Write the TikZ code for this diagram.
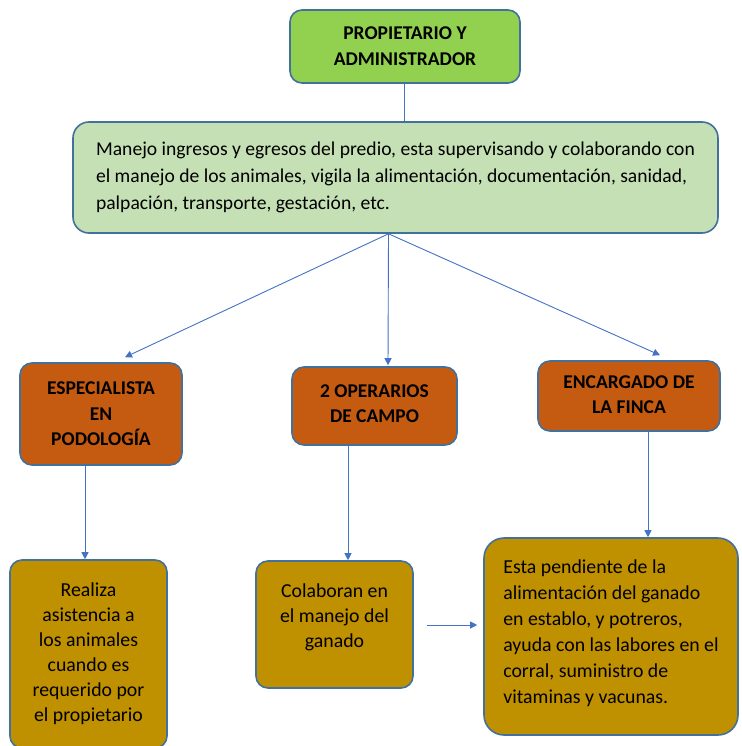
\documentclass[tikz,border=0pt]{standalone}
\usepackage{fontspec}
\setmainfont{Carlito}
\usetikzlibrary{arrows.meta,calc}
\definecolor{bord}{HTML}{41719C}
\definecolor{arrc}{HTML}{4472C4}
\definecolor{topg}{HTML}{92D050}
\definecolor{lightg}{HTML}{C5E0B4}
\definecolor{orng}{HTML}{C55A11}
\definecolor{gold}{HTML}{BF9000}
\begin{document}
\begin{tikzpicture}[x=1pt,y=-1pt,
  box/.style={draw=bord, line width=1.6pt, rounded corners=12pt, inner sep=0pt, text=black},
  headbox/.style={box, fill=orng, font=\fontsize{19.5}{25.5}\selectfont\bfseries, align=center},
  lowbox/.style={box, fill=gold, font=\fontsize{19.8}{25}\selectfont},
  arr/.style={draw=arrc, line width=0.9pt, -{Triangle[length=7pt,width=7pt]}},
  plain/.style={draw=arrc, line width=0.9pt}]
\useasboundingbox (0,0) rectangle (741,746);
\fill[white] (0,0) rectangle (741,746);
% top
\node[box, fill=topg, minimum width=230pt, minimum height=73pt, font=\fontsize{19.5}{26}\selectfont\bfseries, align=center] (top) at (405,46.5) {PROPIETARIO Y\\ADMINISTRADOR};
\node[box, fill=lightg, rounded corners=16pt, minimum width=645pt, minimum height=111pt, font=\fontsize{19.6}{27}\selectfont, align=left] (big) at (395.5,177.5)
 {Manejo ingresos y egresos del predio, esta supervisando y colaborando con\\ el manejo de los animales, vigila la alimentación, documentación, sanidad,\\ palpación, transporte, gestación, etc.\\[-23pt]};
% middle row
\node[headbox, minimum width=162pt, minimum height=102pt] (esp) at (101,414) {ESPECIALISTA\\EN\\PODOLOGÍA};
\node[headbox, minimum width=165pt, minimum height=78pt] (op) at (374.5,406) {2 OPERARIOS\\DE CAMPO\\[-21pt]};
\node[headbox, minimum width=182pt, minimum height=70pt] (enc) at (629,396) {ENCARGADO DE\\LA FINCA\\[-23pt]};
% lower row
\node[lowbox, minimum width=157pt, minimum height=188pt, align=center] (real) at (88.5,654)
 {Realiza\\asistencia a\\los animales\\cuando es\\requerido por\\el propietario};
\node[lowbox, minimum width=157pt, minimum height=127pt, align=center] (col) at (334.5,624.5)
 {Colaboran en\\el manejo del\\ganado\\[-8pt]};
\node[lowbox, rounded corners=20pt, minimum width=254pt, minimum height=197pt, align=left, font=\fontsize{19.8}{26}\selectfont] (esta) at (611,636.5)
 {Esta pendiente de la\\ alimentación del ganado\\ en establo, y potreros,\\ ayuda con las labores en el\\ corral, suministro de\\ vitaminas y vacunas.\\[-17pt]};
% connectors
\draw[plain] ([xshift=-1pt]top.south) -- ([xshift=-1pt]top.south |- big.north);
\draw[arr] ([xshift=-7pt]big.south) -- ([xshift=24pt,yshift=5pt]esp.north);
\draw[arr] ([xshift=-7pt]big.south) -- ([xshift=13.5pt,yshift=1pt]op.north);
\draw[arr] ([xshift=-7pt]big.south) -- ([xshift=31pt,yshift=5pt]enc.north);
\draw[arr] ([xshift=-16pt]esp.south) -- ([xshift=-16pt]esp.south |- real.north);
\draw[arr] ([xshift=-26.5pt]op.south) -- ([xshift=-26.5pt]op.south |- col.north);
\draw[arr] ([xshift=19pt]enc.south) -- ([xshift=19pt]enc.south |- esta.north);
\coordinate (fa) at (427,625);
\draw[arr, shorten >=6pt] (fa) -- (fa -| esta.west);
\end{tikzpicture}
\end{document}
